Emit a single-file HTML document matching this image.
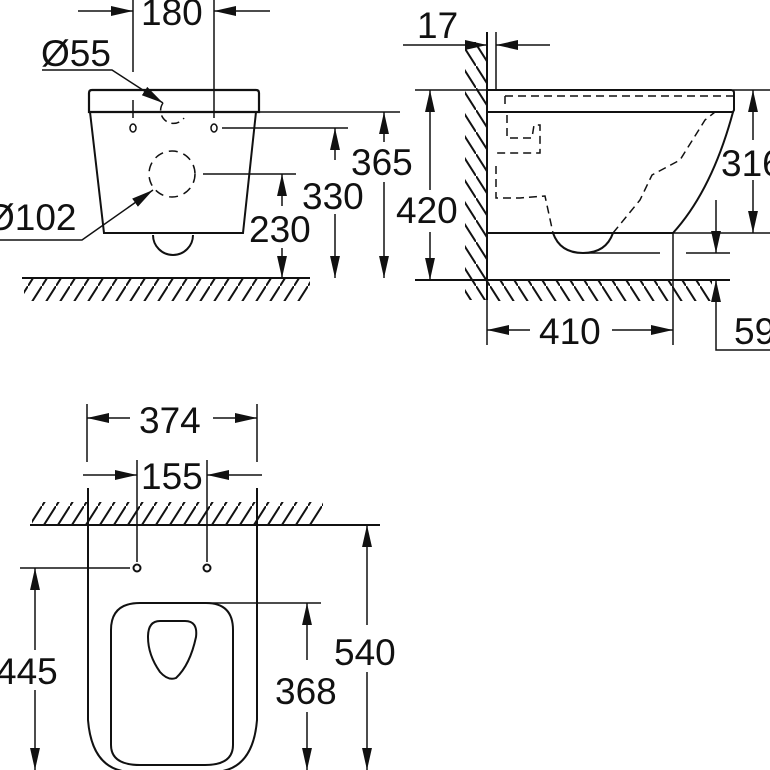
<!DOCTYPE html>
<html><head><meta charset="utf-8"><style>html,body{margin:0;padding:0;background:#fff}svg{display:block}text{font-family:"Liberation Sans",sans-serif;font-size:37px;fill:#111}</style></head><body>
<svg width="770" height="770" viewBox="0 0 770 770" xmlns="http://www.w3.org/2000/svg">
<defs>
<marker id="b" viewBox="0 0 20 10" refX="20" refY="5" markerWidth="22" markerHeight="13" markerUnits="userSpaceOnUse" orient="auto"><path d="M0,0.5L20,5L0,9.5z" fill="#111"/></marker>
<pattern id="hf" width="14" height="22" patternUnits="userSpaceOnUse"><path d="M0,22L14,0" stroke="#111" stroke-width="2"/></pattern>
<pattern id="hb" width="14" height="22" patternUnits="userSpaceOnUse"><path d="M0,0L14,22" stroke="#111" stroke-width="2"/></pattern>
</defs>
<g stroke="#111" fill="none" stroke-width="1.5">
<line x1="133" y1="0" x2="133" y2="72"/><line x1="214" y1="0" x2="214" y2="118"/>
<line x1="78" y1="11" x2="133" y2="11" marker-end="url(#b)"/>
<line x1="270" y1="11" x2="214" y2="11" marker-end="url(#b)"/>
<line x1="133" y1="100" x2="133" y2="118"/>
<path d="M42,70L112,70L163,103" marker-end="url(#b)"/>
<path d="M92,90H256Q259,90 259,93V112H89V93Q89,90 92,90Z" stroke-width="2.2"/>
<path d="M90,112L104,233H243L256,112" stroke-width="2"/>
<path d="M153,235A20,20 0 0 0 193,235" stroke-width="2"/>
<ellipse cx="133" cy="128" rx="3" ry="4"/><ellipse cx="214" cy="128" rx="3" ry="4"/>
<path d="M163,103A12,12 0 1 0 184,118" stroke-dasharray="8,5"/>
<circle cx="172" cy="174" r="23" stroke-dasharray="9,6"/>
<path d="M0,240L82,240L153,190" marker-end="url(#b)"/>
<line x1="258" y1="112" x2="400" y2="112"/>
<line x1="222" y1="128" x2="348" y2="128"/>
<line x1="203" y1="174" x2="296" y2="174"/>
<line x1="282" y1="206" x2="282" y2="174" marker-end="url(#b)"/>
<line x1="282" y1="248" x2="282" y2="278" marker-end="url(#b)"/>
<line x1="335" y1="160" x2="335" y2="128" marker-end="url(#b)"/>
<line x1="335" y1="214" x2="335" y2="278" marker-end="url(#b)"/>
<line x1="384" y1="142" x2="384" y2="112" marker-end="url(#b)"/>
<line x1="384" y1="182" x2="384" y2="278" marker-end="url(#b)"/>
<line x1="22" y1="278" x2="310" y2="278" stroke-width="2"/>
<rect x="24" y="279" width="286" height="22" fill="url(#hf)" stroke="none"/>
<line x1="487" y1="32" x2="487" y2="300" stroke-width="2"/>
<line x1="496" y1="32" x2="496" y2="90"/>
<rect x="465" y="42" width="21" height="258" fill="url(#hb)" stroke="none"/>
<line x1="403" y1="45" x2="487" y2="45" marker-end="url(#b)"/>
<line x1="550" y1="45" x2="496" y2="45" marker-end="url(#b)"/>
<path d="M487,90H731Q734,90 734,93V110L733,112H487" stroke-width="2"/>
<path d="M733,112Q712,190 673,233H487" stroke-width="2"/>
<path d="M553,233Q560,253 583,253Q606,253 613,233" stroke-width="2"/>
<line x1="583" y1="253" x2="660" y2="253"/><line x1="686" y1="253" x2="730" y2="253"/>
<path d="M505,96H733M505,96V108M507,115V138H532L534,125H540V153H496M496,166V198H520L545,196H545L553,233M613,233L640,200L652,175L680,160L705,120L715,112" stroke-dasharray="8,5"/>
<line x1="673" y1="233" x2="673" y2="345"/>
<line x1="415" y1="90" x2="487" y2="90"/><line x1="733" y1="90" x2="770" y2="90"/>
<line x1="673" y1="233" x2="770" y2="233"/>
<line x1="415" y1="280" x2="730" y2="280" stroke-width="2"/>
<rect x="488" y="281" width="224" height="20" fill="url(#hb)" stroke="none"/>
<line x1="430" y1="190" x2="430" y2="90" marker-end="url(#b)"/>
<line x1="430" y1="232" x2="430" y2="280" marker-end="url(#b)"/>
<line x1="753" y1="140" x2="753" y2="90" marker-end="url(#b)"/>
<line x1="753" y1="180" x2="753" y2="233" marker-end="url(#b)"/>
<line x1="487" y1="300" x2="487" y2="345"/>
<line x1="530" y1="330" x2="487" y2="330" marker-end="url(#b)"/>
<line x1="612" y1="330" x2="673" y2="330" marker-end="url(#b)"/>
<line x1="716" y1="200" x2="716" y2="253" marker-end="url(#b)"/>
<path d="M770,350H716V280" marker-end="url(#b)"/>
<line x1="87" y1="404" x2="87" y2="462"/><line x1="257" y1="404" x2="257" y2="462"/>
<line x1="130" y1="418" x2="87" y2="418" marker-end="url(#b)"/>
<line x1="213" y1="418" x2="257" y2="418" marker-end="url(#b)"/>
<line x1="137" y1="460" x2="137" y2="562"/><line x1="207" y1="460" x2="207" y2="562"/>
<line x1="83" y1="475" x2="137" y2="475" marker-end="url(#b)"/>
<line x1="262" y1="475" x2="207" y2="475" marker-end="url(#b)"/>
<rect x="32" y="502" width="291" height="22" fill="url(#hf)" stroke="none"/>
<line x1="30" y1="525" x2="380" y2="525" stroke-width="2"/>
<path d="M88,488V720Q92,770 130,772M257,488V720Q253,770 215,772" stroke-width="2"/>
<circle cx="137" cy="568" r="3.5" stroke-width="2"/><circle cx="207" cy="568" r="3.5" stroke-width="2"/>
<line x1="20" y1="568" x2="130" y2="568"/>
<path d="M140,603H206Q233,603 233,630V745Q233,765 205,765H140Q111,765 111,745V630Q111,603 140,603Z" stroke-width="2"/>
<path d="M160,621H185Q198,621 196,637Q190,665 176,678Q168,681 160,672Q148,655 148,637Q148,621 160,621Z" stroke-width="2"/>
<line x1="207" y1="603" x2="321" y2="603"/>
<line x1="35" y1="650" x2="35" y2="568" marker-end="url(#b)"/>
<line x1="35" y1="690" x2="35" y2="770" marker-end="url(#b)"/>
<line x1="307" y1="660" x2="307" y2="603" marker-end="url(#b)"/>
<line x1="307" y1="712" x2="307" y2="770" marker-end="url(#b)"/>
<line x1="367" y1="625" x2="367" y2="525" marker-end="url(#b)"/>
<line x1="367" y1="672" x2="367" y2="770" marker-end="url(#b)"/>
</g>
<text x="141" y="25">180</text>
<text x="41" y="66">Ø55</text>
<text x="-14" y="230">Ø102</text>
<text x="249" y="242">230</text>
<text x="302" y="209">330</text>
<text x="351" y="175">365</text>
<text x="417" y="38">17</text>
<text x="396" y="223">420</text>
<text x="721" y="176">316</text>
<text x="539" y="344">410</text>
<text x="734" y="344">59</text>
<text x="139" y="433">374</text>
<text x="141" y="489">155</text>
<text x="-4" y="684">445</text>
<text x="275" y="704">368</text>
<text x="334" y="665">540</text>
</svg>
</body></html>
